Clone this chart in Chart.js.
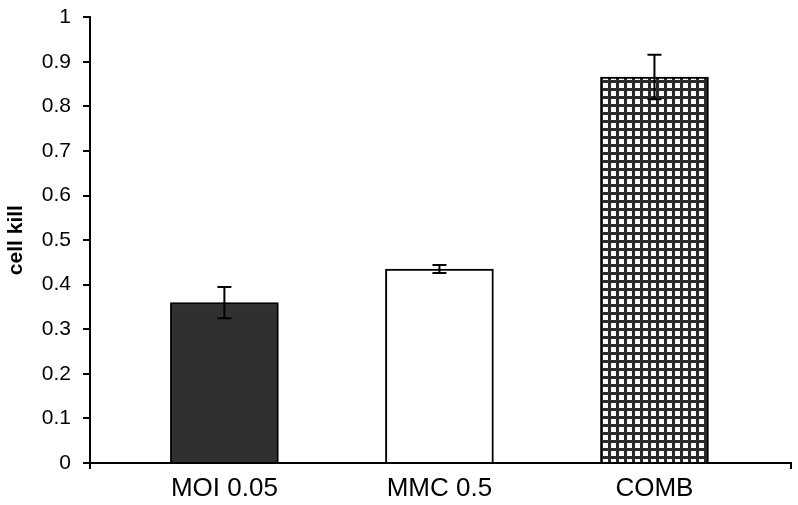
<!DOCTYPE html>
<html><head><meta charset="utf-8">
<script src="https://cdn.jsdelivr.net/npm/chart.js@4/dist/chart.umd.min.js"></script>
<style>html,body{margin:0;padding:0;background:#fff;}#wrap{width:798px;height:505px;}</style>
</head><body><div id="wrap"><canvas id="c" width="798" height="505"></canvas></div>
<script>
const categories = ['MOI 0.05', 'MMC 0.5', 'COMB'];
const cellKill = [0.36, 0.435, 0.866];
const cellKillErr = [0.035, 0.009, 0.05];
const yTicks = [0, 0.1, 0.2, 0.3, 0.4, 0.5, 0.6, 0.7, 0.8, 0.9, 1];

function gridPattern() {
  const p = document.createElement('canvas');
  p.width = 8; p.height = 8;
  const g = p.getContext('2d');
  g.fillStyle = '#ffffff'; g.fillRect(0, 0, 8, 8);
  g.fillStyle = '#2a2a2a';
  g.fillRect(0, 0, 8, 3);
  g.fillRect(0, 0, 3, 8);
  return g.createPattern(p, 'repeat');
}

const errorBars = {
  id: 'errorBars',
  afterDatasetsDraw(chart) {
    const ctx = chart.ctx, xs = chart.scales.x, ys = chart.scales.y;
    ctx.save();
    ctx.strokeStyle = '#000'; ctx.lineWidth = 2;
    cellKill.forEach((v, i) => {
      const x = xs.getPixelForValue(i);
      const t = ys.getPixelForValue(v + cellKillErr[i]);
      const b = ys.getPixelForValue(v - cellKillErr[i]);
      ctx.beginPath();
      ctx.moveTo(x, t); ctx.lineTo(x, b);
      ctx.moveTo(x - 7, t); ctx.lineTo(x + 7, t);
      ctx.moveTo(x - 7, b); ctx.lineTo(x + 7, b);
      ctx.stroke();
    });
    ctx.restore();
  }
};

const XMIN = -0.625, XMAX = 2.635;

new Chart(document.getElementById('c'), {
  type: 'bar',
  data: {
    datasets: [{
      data: cellKill.map((v, i) => ({ x: i, y: v })),
      backgroundColor: ['#303030', '#ffffff', gridPattern()],
      borderColor: '#000',
      borderWidth: 2,
      borderSkipped: 'bottom',
      barThickness: 108
    }]
  },
  options: {
    responsive: false,
    animation: false,
    layout: { padding: { top: 17, right: 7, left: 0, bottom: 0 } },
    plugins: { legend: { display: false }, tooltip: { enabled: false } },
    scales: {
      x: {
        type: 'linear', min: XMIN, max: XMAX, offset: false,
        afterBuildTicks(s) {
          s.ticks = [{ value: XMIN }, { value: 0 }, { value: 1 }, { value: 2 }, { value: XMAX }];
        },
        afterFit(s) { s.height = 42; },
        border: { color: '#000', width: 2 },
        grid: {
          offset: false,
          drawOnChartArea: false, tickLength: 6, lineWidth: 2,
          color: (c) => (c.index === 0 || c.index === 4) ? '#000' : 'rgba(0,0,0,0)'
        },
        ticks: {
          autoSkip: false, maxRotation: 0, padding: 7, color: '#000',
          font: { family: 'Liberation Sans', size: 26, lineHeight: 1 },
          callback: (v) => categories[v] !== undefined ? categories[v] : ''
        }
      },
      y: {
        min: 0, max: 1,
        afterBuildTicks(s) { s.ticks = yTicks.map(v => ({ value: v })); },
        afterFit(s) { s.width = 90; },
        border: { color: '#000', width: 2 },
        grid: { drawOnChartArea: false, tickLength: 7, lineWidth: 2, color: '#000' },
        ticks: {
          padding: 12, color: '#000',
          font: { family: 'Liberation Sans', size: 21, lineHeight: 0.5 },
          callback: (v) => String(Math.round(v * 10) / 10)
        },
        title: {
          display: true, text: 'cell kill', color: '#000',
          font: { family: 'Liberation Sans', size: 21, weight: 'bold' },
          padding: { top: 4, bottom: 0 }
        }
      }
    }
  },
  plugins: [errorBars]
});
</script></body></html>
